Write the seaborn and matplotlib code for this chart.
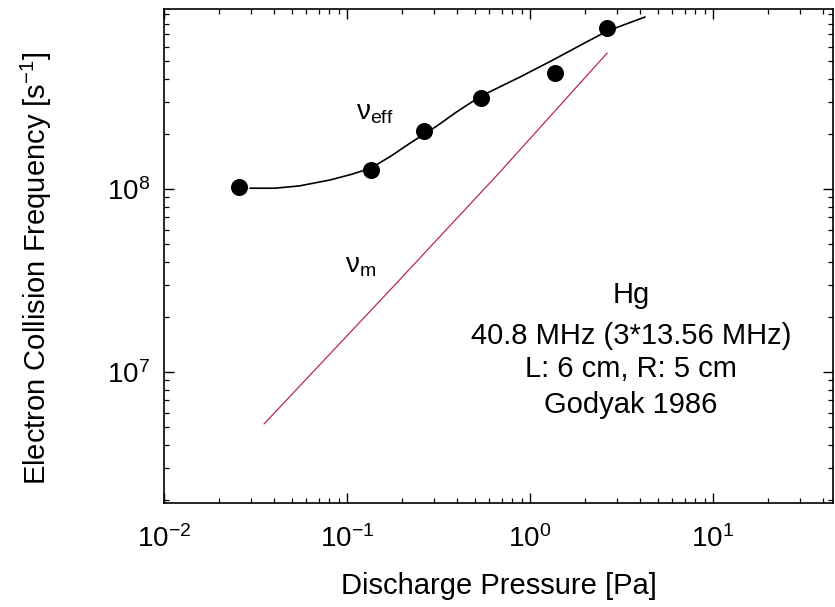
import numpy as np
import pandas as pd
import matplotlib
matplotlib.use("Agg")
import matplotlib.pyplot as plt
import seaborn as sns

# ---- data ----
meas_p = [0.0257, 0.135, 0.264, 0.540, 1.37, 2.64]          # Pa
meas_nu = [1.03e8, 1.27e8, 2.07e8, 3.14e8, 4.30e8, 7.59e8]   # s^-1

eff_p = [0.0295, 0.0404, 0.055, 0.0807, 0.105, 0.135, 0.175, 0.221, 0.310,
         0.400, 0.540, 0.881, 1.335, 2.0, 2.64, 4.25]
eff_nu = [1.01e8, 1.01e8, 1.04e8, 1.12e8, 1.20e8, 1.30e8, 1.52e8, 1.78e8, 2.21e8,
          2.65e8, 3.22e8, 4.09e8, 5.07e8, 6.3e8, 7.29e8, 8.71e8]

m_p = [0.0352, 0.178, 0.686, 2.64]
m_nu = [5.2e6, 2.91e7, 1.24e8, 5.53e8]

info_lines = ["Hg", "40.8 MHz (3*13.56 MHz)", "L: 6 cm, R: 5 cm", "Godyak 1986"]

sns.set_style("ticks")
plt.rcParams["font.family"] = ["Liberation Sans", "DejaVu Sans"]
plt.rcParams["mathtext.fontset"] = "custom"
plt.rcParams["mathtext.rm"] = "Liberation Sans"
plt.rcParams["mathtext.it"] = "Liberation Sans:italic"
for k in ["text.color", "axes.labelcolor", "xtick.color", "ytick.color", "axes.edgecolor"]:
    plt.rcParams[k] = "black"

fig = plt.figure(figsize=(8.35, 6.07), dpi=100)
W, H = 835, 607
L, R, T, B = 164, 833, 9, 503
ax = fig.add_axes([L / W, (H - B) / H, (R - L) / W, (B - T) / H])

df_meas = pd.DataFrame({"p": meas_p, "nu": meas_nu})
df_eff = pd.DataFrame({"p": eff_p, "nu": eff_nu})
df_m = pd.DataFrame({"p": m_p, "nu": m_nu})

sns.lineplot(data=df_eff, x="p", y="nu", ax=ax, color="black", lw=1.2, sort=False)
sns.lineplot(data=df_m, x="p", y="nu", ax=ax, color="#b8284a", lw=0.9, sort=False)
sns.scatterplot(data=df_meas, x="p", y="nu", ax=ax, color="black", s=150,
                marker="o", edgecolor="black", linewidth=0, zorder=5)

ax.set_xscale("log")
ax.set_yscale("log")
ax.set_xlim(0.01, 10 ** (-2 + (R - L) / 183))
ax.set_ylim(10 ** (7 - (B - 372) / 183), 10 ** (8 + (189 - T) / 183))

ax.set_xticks([1e-2, 1e-1, 1e0, 1e1])
ax.set_yticks([1e7, 1e8])
ax.tick_params(which="both", direction="in", top=True, right=True, color="black")
ax.tick_params(which="major", length=7.5, width=1.0, labelsize=20)
ax.tick_params(which="minor", length=3.8, width=0.9)
ax.tick_params(axis="x", which="major", pad=16)
ax.tick_params(axis="y", which="major", pad=10)
for s in ax.spines.values():
    s.set_color("black")
    s.set_linewidth(1.2)

ax.set_xlabel("Discharge Pressure [Pa]", fontsize=21, labelpad=14)
ax.set_ylabel(r"Electron Collision Frequency [s$^{-1}$]", fontsize=21)
ax.yaxis.label.set_va("center")
ax.yaxis.set_label_coords(-0.19, 0.476)

ax.text(0.287, 0.777, r"$\mathregular{\nu_{eff}}$", transform=ax.transAxes, fontsize=20)
ax.text(0.270, 0.466, r"$\mathregular{\nu_{m}}$", transform=ax.transAxes, fontsize=20)

ys = [0.405, 0.322, 0.255, 0.182]
for txt, yy in zip(info_lines, ys):
    ax.text(0.698, yy, txt, transform=ax.transAxes, fontsize=21,
            ha="center", va="baseline")

fig.savefig("out.png", dpi=100)
